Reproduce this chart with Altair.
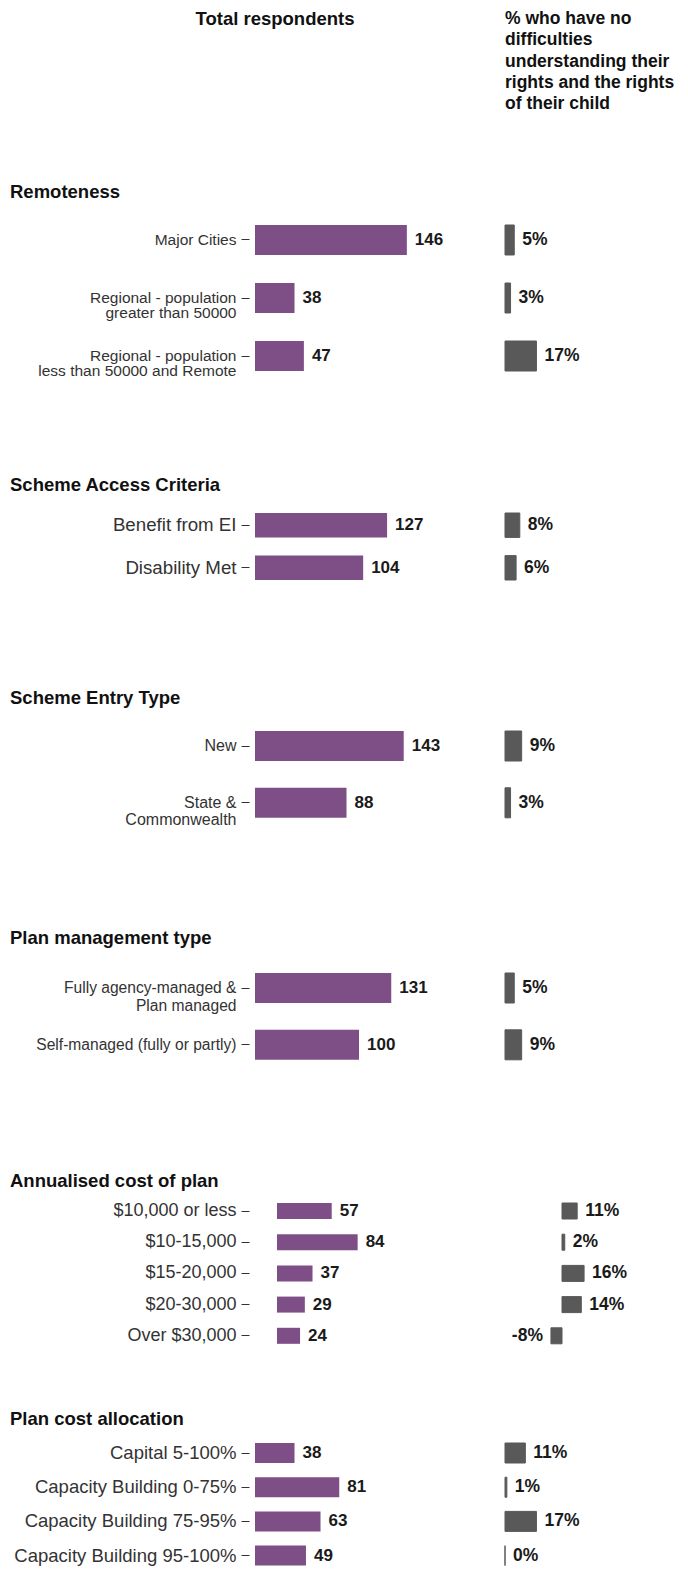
import altair as alt
import pandas as pd

FONT = "Liberation Sans"
PURPLE = "#7E4E86"
GRAY = "#595959"
W = 420
EXT = 239

header_left = "Total respondents"
header_right = ["% who have no", "difficulties", "understanding their",
                "rights and the rights", "of their child"]

sections = ["Remoteness", "Scheme Access Criteria", "Scheme Entry Type",
            "Plan management type", "Annualised cost of plan", "Plan cost allocation"]

remote_cats = ["Major Cities", "Regional - population\ngreater than 50000",
               "Regional - population\nless than 50000 and Remote"]
remote_n = [146, 38, 47]
remote_pct = [5, 3, 17]

access_cats = ["Benefit from EI", "Disability Met"]
access_n = [127, 104]
access_pct = [8, 6]

entry_cats = ["New", "State &\nCommonwealth"]
entry_n = [143, 88]
entry_pct = [9, 3]

mgmt_cats = ["Fully agency-managed &\nPlan managed", "Self-managed (fully or partly)"]
mgmt_n = [131, 100]
mgmt_pct = [5, 9]

cost_cats = ["$10,000 or less", "$10-15,000", "$15-20,000", "$20-30,000", "Over $30,000"]
cost_n = [57, 84, 37, 29, 24]
cost_pct = [11, 2, 16, 14, -8]

alloc_cats = ["Capital 5-100%", "Capacity Building 0-75%",
              "Capacity Building 75-95%", "Capacity Building 95-100%"]
alloc_n = [38, 81, 63, 49]
alloc_pct = [11, 1, 17, 0]


def dom(zero_px, px_per_unit):
    return [-zero_px / px_per_unit, (W - zero_px) / px_per_unit]


def section(title, cats, n, pct, height, band_end, pad_inner, label_size,
            line_h, n_dom, p_dom, t_dy):
    df = pd.DataFrame({"cat": cats, "n": n, "pct": pct})
    y = alt.Y("cat:N", sort=cats, title=None,
              scale=alt.Scale(range=[0, band_end], paddingInner=pad_inner, paddingOuter=0),
              axis=alt.Axis(labelExpr="split(datum.label, '\\n')",
                            labelFontSize=label_size, labelLineHeight=line_h,
                            labelFont=FONT, labelColor="#333333", labelLimit=400,
                            tickSize=8, tickColor="#333333", tickWidth=1,
                            domain=False, labelPadding=5,
                            minExtent=EXT, maxExtent=EXT))
    base = alt.Chart(df).encode(y=y)
    nx = alt.X("n:Q", scale=alt.Scale(domain=n_dom), axis=None)
    px = alt.X("pct:Q", scale=alt.Scale(domain=p_dom), axis=None)
    nbar = base.mark_bar(color=PURPLE).encode(x=nx)
    ntext = base.mark_text(align="left", dx=8, fontSize=17, fontWeight="bold",
                           font=FONT, color="#1a1a1a").encode(x=nx, text="n:Q")
    pbar = base.mark_bar(color=GRAY, stroke=GRAY, strokeWidth=1).encode(x=px)
    pbase = base.transform_calculate(lbl="datum.pct + '%'")
    ptext_pos = pbase.transform_filter("datum.pct >= 0").mark_text(
        align="left", dx=8, fontSize=17.5, fontWeight="bold", font=FONT,
        color="#1a1a1a").encode(x=px, text="lbl:N")
    ptext_neg = pbase.transform_filter("datum.pct < 0").mark_text(
        align="right", dx=-8, fontSize=17.5, fontWeight="bold", font=FONT,
        color="#1a1a1a").encode(x=px, text="lbl:N")
    left = alt.layer(nbar, ntext)
    right = alt.layer(pbar, ptext_pos, ptext_neg)
    return alt.layer(left, right).resolve_scale(x="independent").properties(
        width=W, height=height,
        title=alt.TitleParams(text=title, anchor="start", frame="group", dx=-EXT,
                              offset=0, dy=t_dy, baseline="alphabetic",
                              fontSize=18.5, fontWeight="bold", font=FONT,
                              color="#111111"))


hdr = alt.Chart(pd.DataFrame({"a": [header_left], "b": ["\n".join(header_right)]}))
header = alt.layer(
    hdr.mark_text(align="center", baseline="top", fontSize=18.5,
                  fontWeight="bold", font=FONT, color="#111111").encode(
        text="a:N", x=alt.value(26), y=alt.value(1.5)),
    hdr.mark_text(align="left", baseline="top", fontSize=17.5,
                  fontWeight="bold", font=FONT, color="#111111",
                  lineBreak="\n", lineHeight=21.3).encode(
        text="b:N", x=alt.value(256), y=alt.value(2)),
).properties(width=W, height=217)

cnt = dom(6, 1.04)
pc = dom(256, 1.85)

s1 = section(sections[0], remote_cats, remote_n, remote_pct, 287.4, 146, 0.4828,
             15.5, 15, cnt, pc, -8.1)
s2 = section(sections[1], access_cats, access_n, access_pct, 217.4, 67, 0.4272,
             18.7, 20, cnt, pc, -3.5)
s3 = section(sections[2], entry_cats, entry_n, entry_pct, 241.5, 86.8, 0.4718,
             16, 17.5, cnt, pc, -8.4)
s4 = section(sections[3], mgmt_cats, mgmt_n, mgmt_pct, 229.2, 86.8, 0.4718,
             15.6, 17.5, cnt, pc, -10.4)
s5 = section(sections[4], cost_cats, cost_n, cost_pct, 239.5, 140.8, 0.487,
             18, 20, dom(28, 0.96), dom(313, 1.38), 4.0)
s6 = section(sections[5], alloc_cats, alloc_n, alloc_pct, 130, 122.6, 0.415,
             18.5, 20, cnt, pc, 0.9)

chart = alt.vconcat(header, s1, s2, s3, s4, s5, s6, spacing=0, bounds="flush").properties(
    padding={"left": 2, "top": 0, "right": 0, "bottom": 5}
).configure_view(stroke=None)

chart.save("out.html", embed_options={"renderer": "svg", "actions": False})
